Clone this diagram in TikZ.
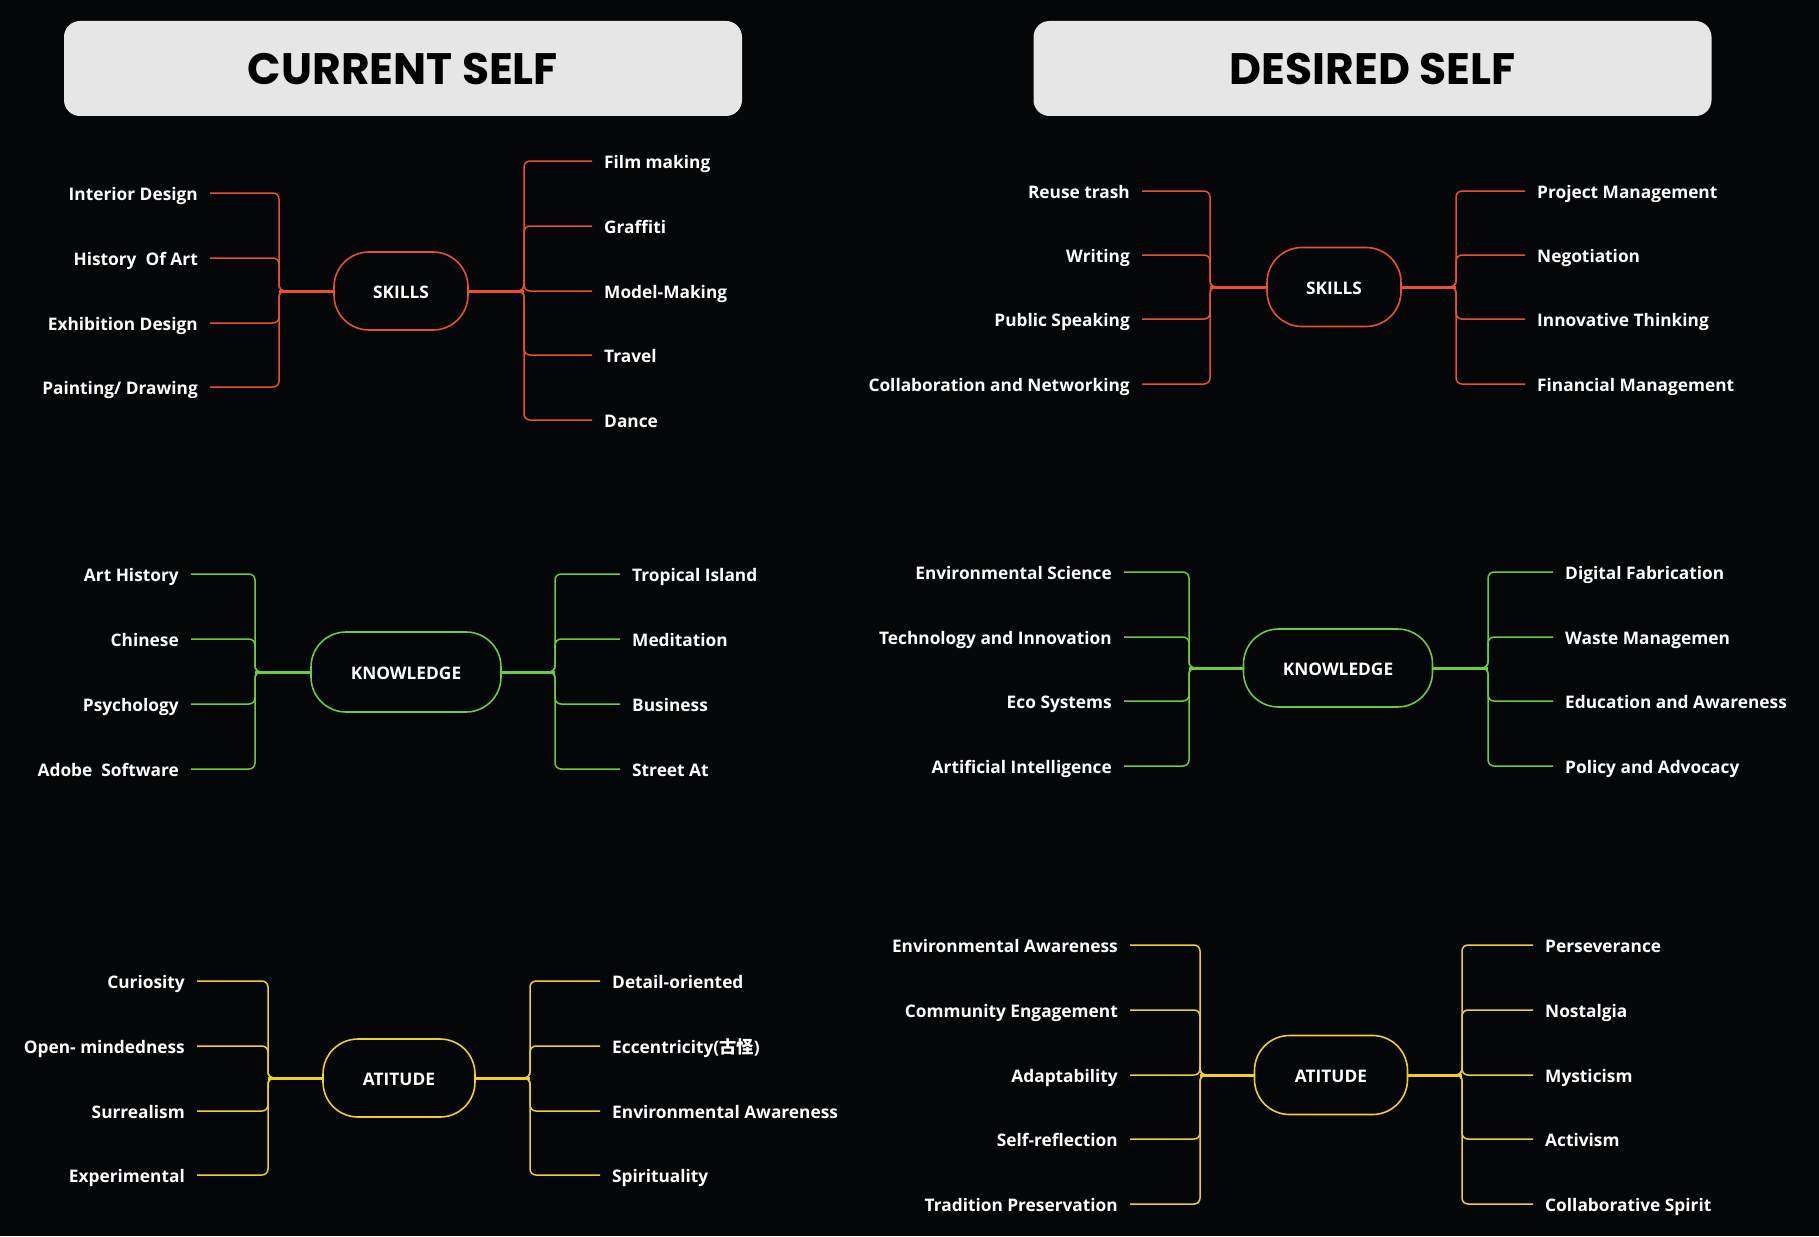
\documentclass[tikz,border=0pt]{standalone}
\usepackage{fontspec}
\setmainfont{Open Sans}
\newfontfamily\titlefont{Poppins}
\newfontfamily\cjk{Noto Sans CJK SC}
\definecolor{bg}{HTML}{050608}
\definecolor{titlegray}{HTML}{E6E6E6}
\definecolor{cskill}{HTML}{E8502F}
\definecolor{cknow}{HTML}{6CCB3E}
\definecolor{catt}{HTML}{EFD02A}
\begin{document}
\begin{tikzpicture}[x=1pt,y=-1pt,
  lab/.style={text=white,font=\bfseries\fontsize{17.3}{20}\selectfont,inner xsep=12pt,inner ysep=0pt,text height=14pt,text depth=0pt},
  llab/.style={lab,anchor=east},
  rlab/.style={lab,anchor=west},
  hub/.style={line width=1.6pt,fill=bg,text=white,font=\bfseries\fontsize{17.3}{20}\selectfont,rounded corners=35pt,inner sep=0pt,text height=14pt,text depth=0pt},
  br/.style={line width=1.5pt,rounded corners=6pt},
  stem/.style={line width=3pt},
  titlebox/.style={fill=titlegray,rounded corners=16pt,minimum width=678pt,minimum height=95pt,inner sep=0pt,font=\titlefont\bfseries\fontsize{44}{50}\selectfont,text=black}
]
\fill[bg] (0,0) rectangle (1819,1236);
\useasboundingbox (0,0) rectangle (1819,1236);

% titles
\node[titlebox] (tcur) at (403,68.5) {CURRENT SELF};
\node[titlebox] (tdes) at (1372.5,68.5) {DESIRED SELF};

% hubs
\node[hub,draw=cskill,minimum width=134pt,minimum height=78pt] (csk) at (401,291) {SKILLS};
\node[hub,draw=cknow,minimum width=190pt,minimum height=80pt] (ckn) at (406,672) {KNOWLEDGE};
\node[hub,draw=catt,minimum width=152pt,minimum height=78pt] (cat) at (399,1078) {ATITUDE};
\node[hub,draw=cskill,minimum width=134pt,minimum height=79pt] (dsk) at (1334,287) {SKILLS};
\node[hub,draw=cknow,minimum width=189pt,minimum height=78pt] (dkn) at (1338,668) {KNOWLEDGE};
\node[hub,draw=catt,minimum width=153pt,minimum height=79pt] (dat) at (1331,1075) {ATITUDE};

% ---------- current skills
\coordinate (cskL) at (279,291);
\coordinate (cskR) at (524,291);
\draw[stem,cskill] (csk.west) -- (cskL);
\draw[stem,cskill] (csk.east) -- (cskR);
\foreach \yy/\lbl [count=\ii] in {193/Interior Design,258/{History\ \ Of Art},323/Exhibition Design,387/{Painting/ Drawing}}{
  \node[llab] (cskl\ii) at (210,\yy) {\lbl};
  \draw[br,cskill] (csk.west) -- (cskL) |- (cskl\ii.east);
}
\foreach \yy/\lbl [count=\ii] in {161/Film making,226/Graffiti,291/Model-Making,355/Travel,420/Dance}{
  \node[rlab] (cskr\ii) at (592,\yy) {\lbl};
  \draw[br,cskill] (csk.east) -- (cskR) |- (cskr\ii.west);
}

% ---------- current knowledge
\coordinate (cknL) at (255,672);
\coordinate (cknR) at (555,672);
\draw[stem,cknow] (ckn.west) -- (cknL);
\draw[stem,cknow] (ckn.east) -- (cknR);
\foreach \yy/\lbl [count=\ii] in {574/Art History,639/Chinese,704/Psychology,769/{Adobe\ \ Software}}{
  \node[llab] (cknl\ii) at (191,\yy) {\lbl};
  \draw[br,cknow] (ckn.west) -- (cknL) |- (cknl\ii.east);
}
\foreach \yy/\lbl [count=\ii] in {574/Tropical Island,639/Meditation,704/Business,769/Street At}{
  \node[rlab] (cknr\ii) at (620,\yy) {\lbl};
  \draw[br,cknow] (ckn.east) -- (cknR) |- (cknr\ii.west);
}

% ---------- current attitude
\coordinate (catL) at (268,1078);
\coordinate (catR) at (530,1078);
\draw[stem,catt] (cat.west) -- (catL);
\draw[stem,catt] (cat.east) -- (catR);
\foreach \yy/\lbl [count=\ii] in {981/Curiosity,1046/Open- mindedness,1111/Surrealism,1175/Experimental}{
  \node[llab] (catl\ii) at (197,\yy) {\lbl};
  \draw[br,catt] (cat.west) -- (catL) |- (catl\ii.east);
}
\foreach \yy/\lbl [count=\ii] in {981/Detail-oriented,1046/{Eccentricity({\cjk\bfseries 古怪})},1111/Environmental Awareness,1175/Spirituality}{
  \node[rlab] (catr\ii) at (600,\yy) {\lbl};
  \draw[br,catt] (cat.east) -- (catR) |- (catr\ii.west);
}

% ---------- desired skills
\coordinate (dskL) at (1210,287);
\coordinate (dskR) at (1456,287);
\draw[stem,cskill] (dsk.west) -- (dskL);
\draw[stem,cskill] (dsk.east) -- (dskR);
\foreach \yy/\lbl [count=\ii] in {191/Reuse trash,255/Writing,319/Public Speaking,384/Collaboration and Networking}{
  \node[llab] (dskl\ii) at (1142,\yy) {\lbl};
  \draw[br,cskill] (dsk.west) -- (dskL) |- (dskl\ii.east);
}
\foreach \yy/\lbl [count=\ii] in {191/Project Management,255/Negotiation,319/Innovative Thinking,384/Financial Management}{
  \node[rlab] (dskr\ii) at (1525,\yy) {\lbl};
  \draw[br,cskill] (dsk.east) -- (dskR) |- (dskr\ii.west);
}

% ---------- desired knowledge
\coordinate (dknL) at (1189,668);
\coordinate (dknR) at (1488,668);
\draw[stem,cknow] (dkn.west) -- (dknL);
\draw[stem,cknow] (dkn.east) -- (dknR);
\foreach \yy/\lbl [count=\ii] in {572/Environmental Science,637/Technology and Innovation,701/Eco Systems,766/Artificial Intelligence}{
  \node[llab] (dknl\ii) at (1124,\yy) {\lbl};
  \draw[br,cknow] (dkn.west) -- (dknL) |- (dknl\ii.east);
}
\foreach \yy/\lbl [count=\ii] in {572/Digital Fabrication,637/Waste Managemen,701/Education and Awareness,766/Policy and Advocacy}{
  \node[rlab] (dknr\ii) at (1553,\yy) {\lbl};
  \draw[br,cknow] (dkn.east) -- (dknR) |- (dknr\ii.west);
}

% ---------- desired attitude
\coordinate (datL) at (1200,1075);
\coordinate (datR) at (1462,1075);
\draw[stem,catt] (dat.west) -- (datL);
\draw[stem,catt] (dat.east) -- (datR);
\foreach \yy/\lbl [count=\ii] in {945/Environmental Awareness,1010/Community Engagement,1075/Adaptability,1139/Self-reflection,1204/Tradition Preservation}{
  \node[llab] (datl\ii) at (1130,\yy) {\lbl};
  \draw[br,catt] (dat.west) -- (datL) |- (datl\ii.east);
}
\foreach \yy/\lbl [count=\ii] in {945/Perseverance,1010/Nostalgia,1075/Mysticism,1139/Activism,1204/Collaborative Spirit}{
  \node[rlab] (datr\ii) at (1533,\yy) {\lbl};
  \draw[br,catt] (dat.east) -- (datR) |- (datr\ii.west);
}
\end{tikzpicture}
\end{document}
